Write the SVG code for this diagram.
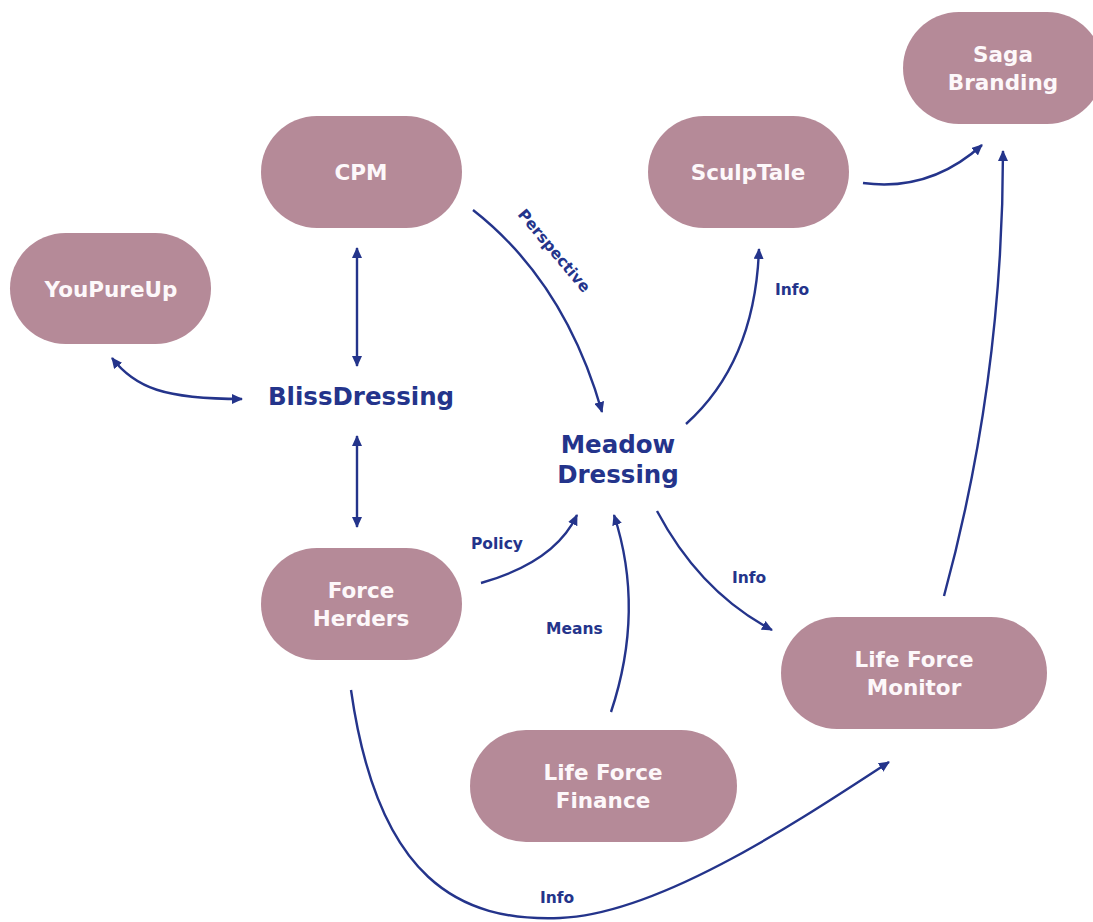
<svg xmlns="http://www.w3.org/2000/svg" width="1093" height="922" viewBox="0 0 1093 922">
  <defs>
    <style>
      .node rect { fill: #b58a98; }
      .node text { fill: #fdf8fa; font-family: "DejaVu Sans", "Liberation Sans", sans-serif; font-weight: bold; font-size: 21.5px; text-anchor: middle; }
      .hub text { fill: #24348b; font-family: "DejaVu Sans", "Liberation Sans", sans-serif; font-weight: bold; text-anchor: middle; }
      .edge { fill: none; stroke: #24348b; stroke-width: 2.4; }
      .lbl { fill: #24348b; font-family: "DejaVu Sans", "Liberation Sans", sans-serif; font-weight: bold; font-size: 15.5px; }
    </style>
    <marker id="ah" markerUnits="userSpaceOnUse" markerWidth="12" markerHeight="10" refX="10" refY="5" orient="auto-start-reverse" viewBox="0 0 12 10">
      <path d="M0,0 L11,5 L0,10 z" fill="#24348b"/>
    </marker>
  </defs>
  <rect width="1093" height="922" fill="#ffffff"/>

  <g id="connectors">
    <path class="edge" d="M357,248 L357,366" marker-start="url(#ah)" marker-end="url(#ah)"/>
    <path class="edge" d="M357,436 L357,527" marker-start="url(#ah)" marker-end="url(#ah)"/>
    <path class="edge" d="M112,358 C135,388 165,399 242,399" marker-start="url(#ah)" marker-end="url(#ah)"/>
    <path class="edge" d="M473,210 Q565,282 602,412" marker-end="url(#ah)"/>
    <path class="edge" d="M686,424 Q755,362 759,249" marker-end="url(#ah)"/>
    <path class="edge" d="M863,183 Q930,192 982,145" marker-end="url(#ah)"/>
    <path class="edge" d="M944,596 Q1003,380 1003,151" marker-end="url(#ah)"/>
    <path class="edge" d="M481,583 Q555,562 577,515" marker-end="url(#ah)"/>
    <path class="edge" d="M611,712 Q645,610 614,515" marker-end="url(#ah)"/>
    <path class="edge" d="M657,511 Q700,592 772,630" marker-end="url(#ah)"/>
    <path class="edge" d="M351,690 C378,880 460,922 560,918 C660,914 800,820 889,762" marker-end="url(#ah)"/>
    <text class="lbl" text-anchor="middle" transform="translate(554,251) rotate(50)" y="5">Perspective</text>
    <text class="lbl" x="775" y="295">Info</text>
    <text class="lbl" x="471" y="549">Policy</text>
    <text class="lbl" x="546" y="634">Means</text>
    <text class="lbl" x="732" y="583">Info</text>
    <text class="lbl" x="540" y="903">Info</text>
  </g>

  <g id="node-cpm" class="node">
    <rect x="261" y="116" width="201" height="112" rx="56"/>
    <text x="361" y="180">CPM</text>
  </g>
  <g id="node-youpureup" class="node">
    <rect x="10" y="233" width="201" height="111" rx="55.5"/>
    <text x="111" y="297">YouPureUp</text>
  </g>
  <g id="node-sculptale" class="node">
    <rect x="648" y="116" width="201" height="112" rx="56"/>
    <text x="748" y="180">SculpTale</text>
  </g>
  <g id="node-saga" class="node">
    <rect x="903" y="12" width="200" height="112" rx="56"/>
    <text x="1003" y="62">Saga</text>
    <text x="1003" y="90">Branding</text>
  </g>
  <g id="node-forceherders" class="node">
    <rect x="261" y="548" width="201" height="112" rx="56"/>
    <text x="361" y="598">Force</text>
    <text x="361" y="626">Herders</text>
  </g>
  <g id="node-finance" class="node">
    <rect x="470" y="730" width="267" height="112" rx="56"/>
    <text x="603" y="780">Life Force</text>
    <text x="603" y="808">Finance</text>
  </g>
  <g id="node-monitor" class="node">
    <rect x="781" y="617" width="266" height="112" rx="56"/>
    <text x="914" y="667">Life Force</text>
    <text x="914" y="695">Monitor</text>
  </g>
  <g id="node-bliss" class="hub">
    <text x="361" y="405" font-size="24.5">BlissDressing</text>
  </g>
  <g id="node-meadow" class="hub">
    <text x="618" y="453" font-size="24.5">Meadow</text>
    <text x="618" y="483" font-size="24.5">Dressing</text>
  </g>
</svg>
